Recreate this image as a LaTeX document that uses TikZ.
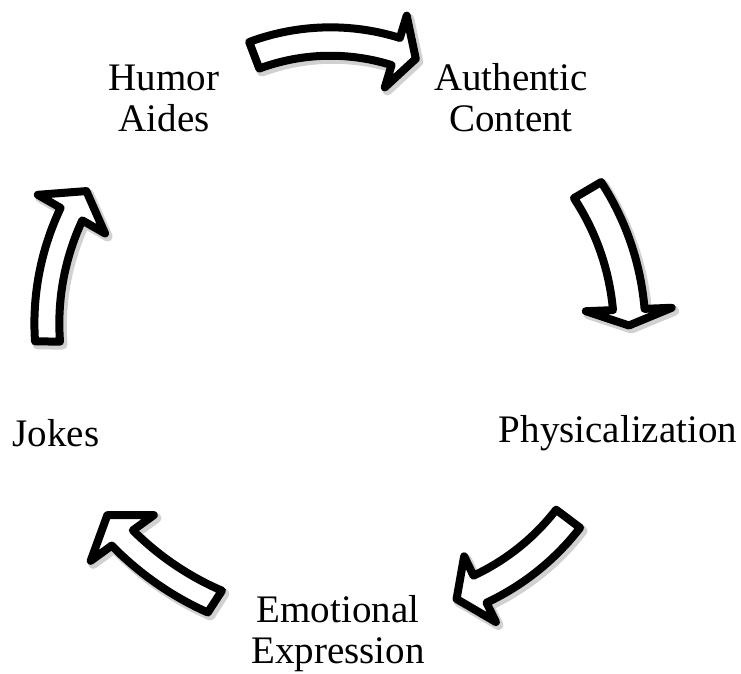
\documentclass[tikz,border=0pt]{standalone}
\usepackage{fontspec}
\setmainfont{Liberation Serif}
\tikzset{
  barrow/.style={draw=black, fill=white, line width=8pt, line join=round},
  bshadow/.style={draw=black, fill=black, opacity=0.18, line width=10pt, line join=round, shift={(2.5pt,-3pt)}},
  lbl/.style={inner sep=0pt, align=center, font=\fontsize{39}{41}\selectfont}
}
% centre x, centre y, tail angle, head-base angle, tip angle, tail radius, head radius, half shaft, half head
\newcommand\blockarrpath[9]{%
  plot[domain=#3:#4, samples=40] ({#1+((#6)+((#7)-(#6))*(\x-(#3))/((#4)-(#3))+(#8))*cos(\x)}, {#2+((#6)+((#7)-(#6))*(\x-(#3))/((#4)-(#3))+(#8))*sin(\x)})
  -- ({#1+((#7)+(#9))*cos(#4)}, {#2+((#7)+(#9))*sin(#4)})
  -- ({#1+(#7)*cos(#5)}, {#2+(#7)*sin(#5)})
  -- ({#1+((#7)-(#9))*cos(#4)}, {#2+((#7)-(#9))*sin(#4)})
  -- plot[domain=#4:#3, samples=40] ({#1+((#6)+((#7)-(#6))*(\x-(#3))/((#4)-(#3))-(#8))*cos(\x)}, {#2+((#6)+((#7)-(#6))*(\x-(#3))/((#4)-(#3))-(#8))*sin(\x)})
  -- cycle}
\newcommand\blockarr[9]{%
  \path[bshadow] \blockarrpath{#1}{#2}{#3}{#4}{#5}{#6}{#7}{#8}{#9};
  \path[barrow] \blockarrpath{#1}{#2}{#3}{#4}{#5}{#6}{#7}{#8}{#9};}
\begin{document}
\begin{tikzpicture}[x=1pt,y=1pt]
\useasboundingbox (0,0) rectangle (741,673);
% labels
\node[lbl] (humor) at (164,575) {Humor\\Aides};
\node[lbl] (auth) at (511,575) {Authentic\\Content};
\node[lbl] (phys) at (618,240) {Physicalization};
\node[lbl] (emo) at (338,39) {Emotional\\Expression};
\node[lbl] (jokes) at (56,240) {Jokes};
% arrows
\blockarr{332}{413}{110.8}{73}{67.4}{219}{218}{14.2}{37.5}
\blockarr{367}{353}{30.5}{2.3}{-1.2}{256}{262}{15.8}{43}
\blockarr{376}{299}{-37}{-64.2}{-70.3}{240.5}{239}{15}{36.5}
\blockarr{375}{318}{-123}{-144.1}{-149.1}{294}{312}{13}{39}
\blockarr{299}{328}{179.2}{150.1}{144.1}{251.5}{262.5}{12.5}{38.8}
\end{tikzpicture}
\end{document}
